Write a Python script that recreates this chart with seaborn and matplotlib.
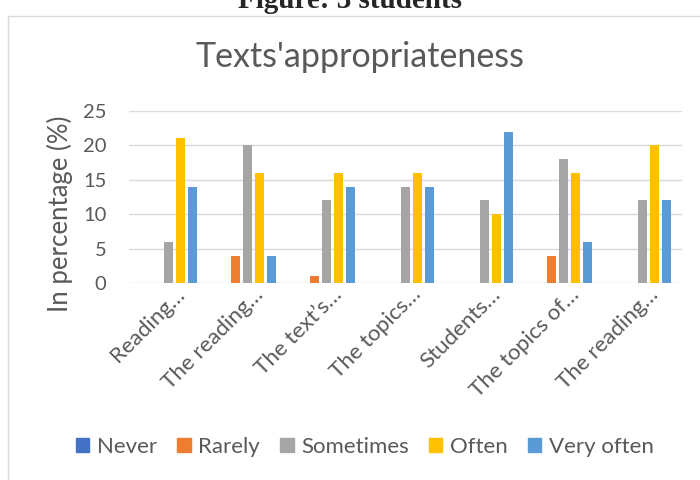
import pandas as pd
import seaborn as sns
import matplotlib.pyplot as plt
import matplotlib.transforms as mtransforms
from matplotlib.patches import Rectangle, Patch

# data
items = ["Reading…", "The reading…", "The text’s…", "The topics…",
         "Students…", "The topics of…", "The reading…"]
levels = ["Never", "Rarely", "Sometimes", "Often", "Very often"]
never = [0, 0, 0, 0, 0, 0, 0]
rarely = [0, 4, 1, 0, 0, 4, 0]
sometimes = [6, 20, 12, 14, 12, 18, 12]
often = [21, 16, 16, 16, 10, 16, 20]
very_often = [14, 4, 14, 14, 22, 6, 12]
colors = ["#4472C4", "#ED7D31", "#A5A5A5", "#FFC000", "#5B9BD5"]

sns.set_theme(style="white")
plt.rcParams['font.family'] = ['Lato', 'DejaVu Sans']
grey = "#595959"

# long table, item index keeps the repeated labels apart
rows = []
for series, name in zip([never, rarely, sometimes, often, very_often], levels):
    for i, v in enumerate(series):
        rows.append({"item": i, "level": name, "value": v})
df = pd.DataFrame(rows)

fig = plt.figure(figsize=(7, 4.8), dpi=100)
ax = fig.add_axes([0.184, 0.410, 0.790, 0.359])

sns.barplot(data=df, x="item", y="value", hue="level", hue_order=levels,
            palette=colors, width=0.76, gap=0.25, saturation=1,
            linewidth=0, ax=ax, legend=False)

ax.set_ylim(0, 25)
ax.set_yticks([0, 5, 10, 15, 20, 25])
ax.yaxis.grid(True, color="#D9D9D9", lw=1)
ax.set_axisbelow(True)
for s in ax.spines.values():
    s.set_visible(False)
ax.tick_params(axis="y", length=0, labelsize=14.5, colors=grey, pad=16)
ax.tick_params(axis="x", length=0, labelsize=16, colors=grey, pad=6)
ax.set_xticks(range(len(items)))
ax.set_xticklabels(items, rotation=45, ha="right", va="center",
                   rotation_mode="anchor")
# shift the slanted labels a little to the right, like the original
shift = mtransforms.ScaledTranslation(13 / 100, 0, fig.dpi_scale_trans)
for lab in ax.get_xticklabels():
    lab.set_transform(lab.get_transform() + shift)
ax.set_xlabel("")
ax.set_ylabel("In percentage (%)", fontsize=18.5, color=grey)
# the label sits a bit below the middle of the axis in the original
ax.yaxis.set_label_coords(73 / 700, 1 - 214 / 480, transform=fig.transFigure)

# chart frame and titles
fig.patches.append(Rectangle((8 / 700, -0.05), 1.1, 1 - 16 / 480 + 0.05,
                             transform=fig.transFigure, fill=False,
                             ec="#D9D9D9", lw=1))
fig.text(0.5, 1 - 8 / 480, "Figure: 3 students", ha="center", va="baseline",
         fontsize=21, fontweight="bold", family="Liberation Serif")
fig.text(360 / 700, 1 - 57 / 480, "Texts'appropriateness", ha="center",
         va="center", fontsize=24.5, color=grey)

handles = [Patch(color=c, label=l) for c, l in zip(colors, levels)]
fig.legend(handles=handles, loc="center", bbox_to_anchor=(365 / 700, 1 - 447 / 480),
           ncol=5, frameon=False, fontsize=16, handlelength=0.6, handleheight=0.6,
           handletextpad=0.35, columnspacing=0.9, labelcolor=grey)

fig.savefig("out.png", dpi=100)
